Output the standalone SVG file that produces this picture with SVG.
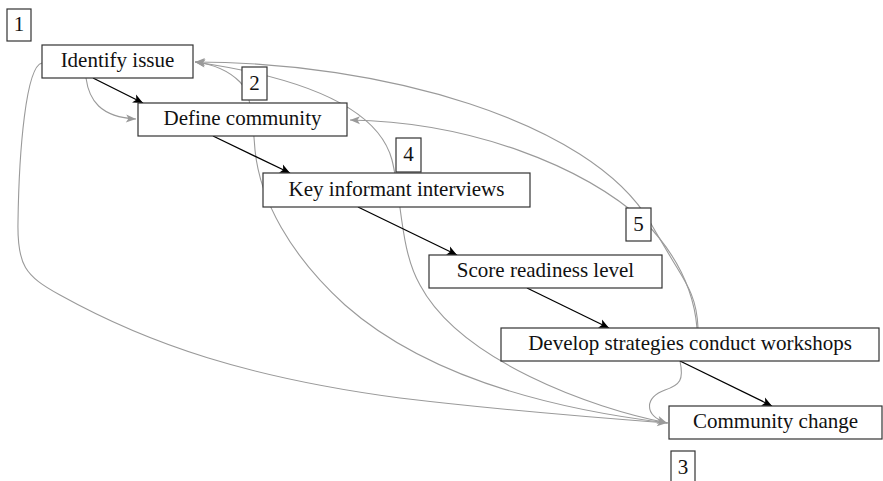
<svg xmlns="http://www.w3.org/2000/svg" width="883" height="481" viewBox="0 0 883 481">
<style>
.box{fill:#fff;stroke:#333;stroke-width:1.2}
.lbl{font-family:"Liberation Serif","DejaVu Serif",serif;font-size:21px;fill:#111;text-anchor:middle}
.blk{fill:none;stroke:#000;stroke-width:1.3;marker-end:url(#ab)}
.gry{fill:none;stroke:#9a9a9a;stroke-width:1.1;marker-end:url(#ag)}
</style>
<defs>
<marker id="ab" markerUnits="userSpaceOnUse" markerWidth="11" markerHeight="9" refX="10" refY="4.5" orient="auto" overflow="visible">
<path d="M0,0 L10,4.5 L0,9 L2.5,4.5 z" fill="#000"/>
</marker>
<marker id="ag" markerUnits="userSpaceOnUse" markerWidth="11" markerHeight="9" refX="10" refY="4" orient="auto" overflow="visible">
<path d="M0,0 L10,4 L0,8 L2.5,4 z" fill="#9a9a9a"/>
</marker>
</defs>
<g id="connectors">
<path class="gry" d="M86,78 C89,100 100,117 136,119"/>
<path class="gry" d="M42,63 C26,66 19,150 18,222 C17,265 25,276 60,295 C150,345 250,378 400,398 C500,410 600,418 667,423"/>
<path class="gry" d="M668,423 C560,410 430,380 345,305 C290,255 260,200 255,150 C252,110 250,92 240,82 C228,70 212,64 195,62"/>
<path class="gry" d="M668,423 C590,408 460,360 420,285 C400,250 402,200 392,160 C380,115 320,80 195,62"/>
<path class="gry" d="M698,328 C697,295 684,280 670,256 C664,246 658,236 650,222 C590,120 380,62 195,62"/>
<path class="gry" d="M697,328 C694,292 677,255 645,222 C582,165 470,122 350,120"/>
<path class="gry" d="M680,361 C684,380 680,385 665,390 C645,397 643,415 667,423"/>
<path class="blk" d="M93,78 L143,103"/>
<path class="blk" d="M213,136 L290,173"/>
<path class="blk" d="M358,207 L457,255"/>
<path class="blk" d="M527,288 L609,328"/>
<path class="blk" d="M680,361 L772,406"/>
</g>
<g id="n1"><rect class="box" x="7" y="9" width="24" height="32"/><text class="lbl" x="19" y="31">1</text></g>
<g id="identify"><rect class="box" x="42" y="45" width="151" height="33"/><text class="lbl" x="117.5" y="67">Identify issue</text></g>
<g id="n2"><rect class="box" x="242" y="67" width="25" height="33"/><text class="lbl" x="254.5" y="90">2</text></g>
<g id="define"><rect class="box" x="138" y="103" width="209" height="33"/><text class="lbl" x="242.5" y="125">Define community</text></g>
<g id="n4"><rect class="box" x="396" y="138" width="25" height="34"/><text class="lbl" x="408.5" y="161">4</text></g>
<g id="interviews"><rect class="box" x="263" y="173" width="267" height="34"/><text class="lbl" x="396.5" y="196">Key informant interviews</text></g>
<g id="score"><rect class="box" x="429" y="255" width="233" height="33"/><text class="lbl" x="545.5" y="277">Score readiness level</text></g>
<g id="n5"><rect class="box" x="626" y="208" width="25" height="33"/><text class="lbl" x="638.5" y="231">5</text></g>
<g id="develop"><rect class="box" x="501" y="328" width="378" height="33"/><text class="lbl" x="690" y="350">Develop strategies conduct workshops</text></g>
<g id="change"><rect class="box" x="669" y="406" width="213" height="33"/><text class="lbl" x="775.5" y="428">Community change</text></g>
<g id="n3"><rect class="box" x="671" y="451" width="24" height="32"/><text class="lbl" x="683" y="474">3</text></g>
</svg>
